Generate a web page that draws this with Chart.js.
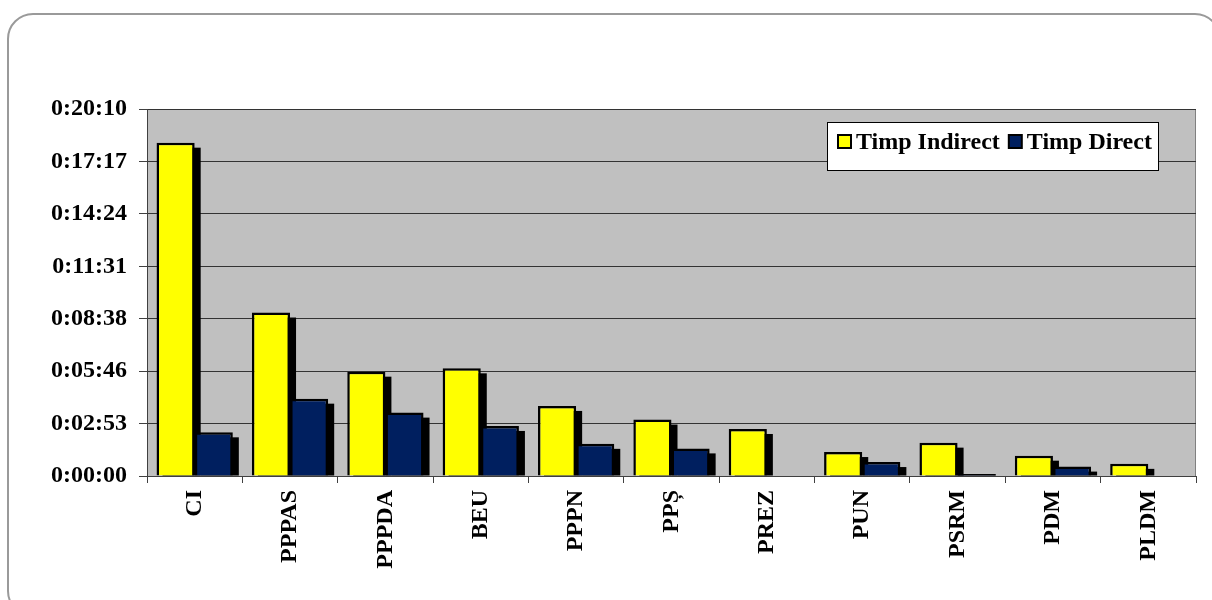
<!DOCTYPE html>
<html>
<head>
<meta charset="utf-8">
<script src="https://cdn.jsdelivr.net/npm/chart.js@4/dist/chart.umd.min.js"></script>
<style>
  body { margin: 0; background: #fff; overflow: hidden; }
  .frame {
    position: absolute; left: 7px; top: 13px;
    width: 1210px; height: 600px;
    border: 2px solid #9a9a9a; border-radius: 26px;
  }
  #chart { position: absolute; left: 0; top: 0; }
</style>
</head>
<body>
<div class="frame"></div>
<canvas id="chart" width="1212" height="600"></canvas>
<script>
// Categories and times (in seconds)
const categories = ['CI', 'PPPAS', 'PPPDA', 'BEU', 'PPPN', 'PPȘ', 'PREZ', 'PUN', 'PSRM', 'PDM', 'PLDM'];
const timpIndirect = [1099, 539, 344, 355, 231, 186, 155, 79, 110, 67, 40];
const timpDirect = [144, 255, 209, 165, 106, 91, 0, 46, 4, 31, 0];
const tickLabels = ['0:00:00', '0:02:53', '0:05:46', '0:08:38', '0:11:31', '0:14:24', '0:17:17', '0:20:10'];

function toSeconds(label) {
  const p = label.split(':').map(Number);
  return p[0] * 3600 + p[1] * 60 + p[2];
}
const tickValues = tickLabels.map(toSeconds);

const FONT = { family: "'Liberation Serif', 'Times New Roman', serif", size: 24, weight: 'bold' };

// gray plot area with border
const plotBackground = {
  id: 'plotBackground',
  beforeDraw(chart) {
    const { ctx, chartArea: a } = chart;
    ctx.save();
    ctx.fillStyle = '#c0c0c0';
    ctx.fillRect(a.left, a.top, a.right - a.left, a.bottom - a.top);
    ctx.strokeStyle = '#808080';
    ctx.lineWidth = 1;
    ctx.strokeRect(a.left + 0.5, a.top + 0.5, a.right - a.left - 1, a.bottom - a.top);
    ctx.restore();
  }
};

// black offset shadow behind each bar
const barShadow = {
  id: 'barShadow',
  beforeDatasetsDraw(chart) {
    const { ctx, chartArea: a } = chart;
    ctx.save();
    ctx.beginPath();
    ctx.rect(a.left, a.top, a.right - a.left, a.bottom - a.top);
    ctx.clip();
    ctx.fillStyle = '#000';
    chart.data.datasets.forEach((ds, i) => {
      chart.getDatasetMeta(i).data.forEach(el => {
        const { x, y, base, width } = el.getProps(['x', 'y', 'base', 'width'], true);
        const h = base - y;
        if (h < 0.5) return;
        ctx.fillRect(x - width / 2 + 6, y + 5, width, Math.max(h - 5, 1.5));
        if (h < 3) ctx.fillRect(x - width / 2, base - 1.5, width, 1.5);
      });
    });
    ctx.restore();
  }
};

// legend box inside the plot, top right
const boxLegend = {
  id: 'boxLegend',
  afterDraw(chart) {
    const { ctx, chartArea: a } = chart;
    const right = a.right - 38, top = a.top + 13, w = 331, h = 48;
    const left = right - w;
    ctx.save();
    ctx.fillStyle = '#fff';
    ctx.fillRect(left, top, w, h);
    ctx.strokeStyle = '#000';
    ctx.lineWidth = 1;
    ctx.strokeRect(left + 0.5, top + 0.5, w, h);
    ctx.font = `${FONT.weight} ${FONT.size}px ${FONT.family}`;
    ctx.textBaseline = 'middle';
    let x = left + 11;
    const cy = top + 20;
    chart.data.datasets.forEach(ds => {
      ctx.fillStyle = ds.backgroundColor;
      ctx.fillRect(x, cy - 7, 13, 13);
      ctx.strokeStyle = '#000';
      ctx.lineWidth = 2;
      ctx.strokeRect(x, cy - 7, 13, 13);
      ctx.fillStyle = '#000';
      ctx.fillText(ds.label, x + 18, cy + 1);
      x += 18 + ctx.measureText(ds.label).width + 9;
    });
    ctx.restore();
  }
};

new Chart(document.getElementById('chart'), {
  type: 'bar',
  data: {
    labels: categories,
    datasets: [{
      label: 'Timp Indirect',
      data: timpIndirect,
      backgroundColor: '#ffff00',
      borderColor: '#000',
      borderWidth: 2.5
    }, {
      label: 'Timp Direct',
      data: timpDirect,
      backgroundColor: '#001f5f',
      borderColor: '#000',
      borderWidth: 2.5
    }]
  },
  options: {
    responsive: false,
    animation: false,
    devicePixelRatio: 1,
    categoryPercentage: 0.8,
    barPercentage: 1,
    layout: { padding: { top: 109, left: 40, right: 16, bottom: 10 } },
    plugins: {
      legend: { display: false },
      tooltip: { enabled: false }
    },
    scales: {
      x: {
        offset: true,
        grid: { offset: true, drawOnChartArea: false, tickLength: 7, tickColor: '#404040' },
        border: { color: '#404040', width: 1 },
        ticks: { color: '#000', font: FONT, maxRotation: 90, minRotation: 90, autoSkip: false, padding: 7 },
        afterFit(scale) { scale.height = 114; }
      },
      y: {
        min: 0,
        max: tickValues[tickValues.length - 1],
        afterBuildTicks(scale) { scale.ticks = tickValues.map(v => ({ value: v })); },
        grid: {
          color: '#333', lineWidth: 1, borderDash: [2, 2],
          tickLength: 8, tickColor: '#404040', tickBorderDash: []
        },
        border: { color: '#404040', width: 1 },
        ticks: {
          color: '#000', font: FONT, padding: 12,
          callback: (v) => tickLabels[tickValues.indexOf(v)]
        },
        afterFit(scale) { scale.width = 107; }
      }
    }
  },
  plugins: [plotBackground, barShadow, boxLegend]
});
</script>
</body>
</html>
